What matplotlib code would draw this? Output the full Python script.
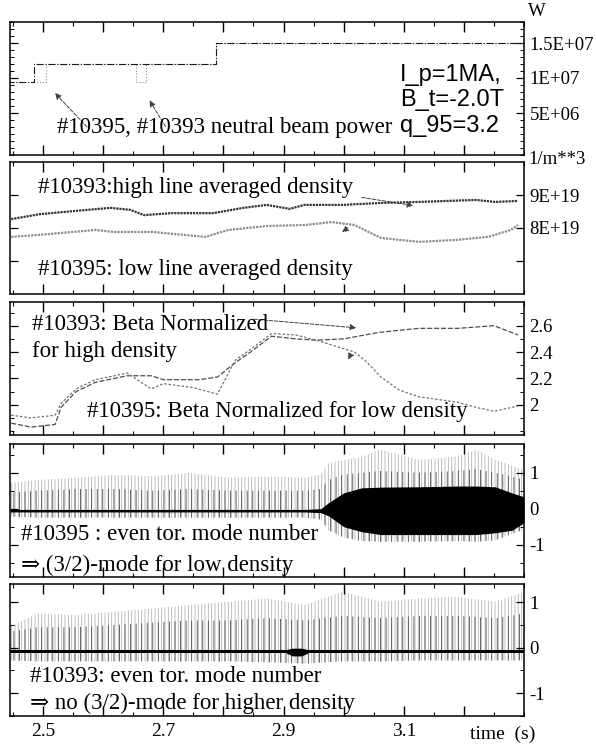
import matplotlib
matplotlib.use("Agg")
import matplotlib.pyplot as plt
from matplotlib.ticker import MultipleLocator

plt.rcParams['font.family'] = ['Liberation Serif', 'DejaVu Serif']
plt.rcParams['hatch.linewidth'] = 0.6

W, H = 596, 746

# neutral beam power (W)
pw95_t = [2.44, 2.485, 2.485, 2.788, 2.788, 3.30]
pw95 = [0.94e7, 0.94e7, 1.2e7, 1.2e7, 1.5e7, 1.5e7]
pw93_t = [2.44, 2.505, 2.505, 2.655, 2.655, 2.672, 2.672, 2.788, 2.788, 3.30]
pw93 = [0.94e7, 0.94e7, 1.2e7, 1.2e7, 0.94e7, 0.94e7, 1.2e7, 1.2e7, 1.5e7, 1.5e7]

# line averaged density (1/m**3)
ne93_t = [2.447, 2.495, 2.555, 2.612, 2.645, 2.668, 2.713, 2.783, 2.833, 2.872,
          2.91, 2.935, 2.998, 3.062, 3.125, 3.22, 3.252, 3.29]
ne93 = [8.27e19, 8.42e19, 8.52e19, 8.61e19, 8.55e19, 8.39e19, 8.45e19, 8.45e19, 8.61e19, 8.70e19,
        8.58e19, 8.70e19, 8.70e19, 8.76e19, 8.79e19, 8.85e19, 8.79e19, 8.82e19]
ne95_t = [2.447, 2.492, 2.587, 2.618, 2.682, 2.77, 2.808, 2.872, 2.935, 2.98,
          3.018, 3.062, 3.093, 3.125, 3.188, 3.24, 3.278, 3.29]
ne95 = [7.73e19, 7.79e19, 7.94e19, 7.88e19, 7.88e19, 7.73e19, 7.94e19, 8.06e19, 8.09e19, 8.18e19,
        8.09e19, 7.70e19, 7.64e19, 7.58e19, 7.64e19, 7.73e19, 7.94e19, 8.09e19]

# beta normalized
bn93_t = [2.447, 2.48, 2.52, 2.53, 2.555, 2.587, 2.64, 2.68, 2.70, 2.76, 2.79, 2.82, 2.845,
          2.88, 2.92, 2.955, 3.0, 3.06, 3.125, 3.19, 3.25, 3.29]
bn93 = [1.86, 1.83, 1.85, 1.98, 2.10, 2.17, 2.22, 2.22, 2.19, 2.19, 2.21, 2.32, 2.40,
        2.52, 2.50, 2.49, 2.50, 2.55, 2.58, 2.58, 2.60, 2.53]
bn95_t = [2.447, 2.48, 2.52, 2.53, 2.555, 2.587, 2.64, 2.68, 2.70, 2.75, 2.79, 2.82, 2.845,
          2.88, 2.92, 2.955, 2.99, 3.018, 3.037, 3.062, 3.093, 3.125, 3.188, 3.22, 3.25, 3.29]
bn95 = [1.92, 1.90, 1.92, 2.01, 2.12, 2.19, 2.24, 2.12, 2.16, 2.13, 2.08, 2.34, 2.42,
        2.54, 2.53, 2.49, 2.44, 2.40, 2.33, 2.21, 2.11, 2.06, 2.02, 1.98, 1.95, 1.99]

# even toroidal mode number signal, #10395
m95_t = [2.445, 2.49, 2.555, 2.618, 2.68, 2.745, 2.808, 2.872, 2.935, 2.962,
         2.975, 3.0, 3.03, 3.062, 3.125, 3.188, 3.22, 3.252, 3.28, 3.30]
m95_max = [0.72, 0.8, 0.86, 0.94, 0.9, 1.0, 0.86, 0.9, 0.86, 0.95,
           1.27, 1.35, 1.45, 1.64, 1.36, 1.45, 1.64, 1.36, 1.2, 1.08]
m95_typ = [0.45, 0.5, 0.55, 0.55, 0.5, 0.55, 0.5, 0.5, 0.5, 0.55,
           0.8, 0.95, 1.0, 1.05, 1.0, 1.05, 1.1, 1.0, 0.9, 0.8]
m95_min = [-0.22, -0.25, -0.25, -0.25, -0.25, -0.25, -0.25, -0.25, -0.25, -0.3,
           -0.6, -0.8, -0.9, -0.92, -0.92, -0.9, -0.92, -0.88, -0.7, -0.58]
m95_hi = [-0.02, -0.02, -0.02, -0.02, -0.02, -0.02, -0.02, -0.02, -0.02, 0.0,
          0.17, 0.44, 0.58, 0.6, 0.61, 0.63, 0.63, 0.61, 0.44, 0.33]
m95_lo = [-0.09, -0.09, -0.09, -0.09, -0.09, -0.09, -0.09, -0.09, -0.09, -0.11,
          -0.2, -0.5, -0.64, -0.72, -0.72, -0.72, -0.72, -0.67, -0.6, -0.39]

# even toroidal mode number signal, #10393
m93_t = [2.445, 2.49, 2.555, 2.618, 2.68, 2.745, 2.808, 2.872, 2.935, 2.998,
         3.062, 3.125, 3.188, 3.252, 3.30]
m93_max = [0.46, 0.75, 0.72, 0.79, 0.86, 0.94, 1.01, 1.08, 0.94, 1.23, 1.01, 1.08, 1.12, 1.01, 1.23]
m93_typ = [0.35, 0.45, 0.45, 0.5, 0.55, 0.6, 0.6, 0.65, 0.6, 0.7, 0.65, 0.7, 0.7, 0.65, 0.75]
m93_min = [-0.28, -0.3, -0.3, -0.3, -0.3, -0.3, -0.3, -0.32, -0.35, -0.3, -0.3, -0.28, -0.28, -0.28, -0.28]
m93_hi = [-0.04] * 15
m93_lo = [-0.12] * 15
burst_t = [2.905, 2.915, 2.93, 2.94]
burst_hi = [-0.04, -0.01, -0.01, -0.04]
burst_lo = [-0.12, -0.18, -0.18, -0.12]

xticks = [2.5, 2.6, 2.7, 2.8, 2.9, 3.0, 3.1, 3.2]
xlabels = ['2.5', '', '2.7', '', '2.9', '', '3.1', '']


def fxy(x, y):
    return x / W, 1 - y / H


fig = plt.figure(figsize=(W / 100, H / 100), dpi=100)
panels = [(22, 155), (162, 294), (302, 435), (444, 577), (584, 716)]
axes = []
for top, bot in panels:
    ax = fig.add_axes([10 / W, 1 - bot / H, 514 / W, (bot - top) / H])
    ax.set_xlim(2.445, 3.30)
    ax.set_xticks(xticks)
    ax.xaxis.set_minor_locator(MultipleLocator(0.05))
    ax.tick_params(axis='x', which='both', direction='in', top=True, bottom=True,
                   labelbottom=False)
    ax.tick_params(axis='x', which='major', length=7, width=1)
    ax.tick_params(axis='x', which='minor', length=3, width=0.8)
    ax.tick_params(axis='y', which='both', direction='in', left=True, right=True,
                   labelleft=False, labelright=True, labelsize=13.5, pad=4)
    ax.tick_params(axis='y', which='major', length=6, width=0.9)
    ax.tick_params(axis='y', which='minor', length=3, width=0.7)
    for s in ax.spines.values():
        s.set_linewidth(1.1)
    axes.append(ax)

ax1, ax2, ax3, ax4, ax5 = axes

# panel 1: beam power
ax1.plot(pw93_t, pw93, color='0.55', lw=0.8, ls=':')
ax1.plot(pw95_t, pw95, color='0.1', lw=0.8, ls='-.')
ax1.set_ylim(-1e6, 1.8e7)
ax1.set_yticks([5e6, 1e7, 1.5e7], ['5E+06', '1E+07', '1.5E+07'])
ax1.yaxis.set_minor_locator(MultipleLocator(1e6))

# panel 2: density
ax2.plot(ne93_t, ne93, color='0.2', lw=1.6, ls=(0, (1, 0.4)))
ax2.plot(ne95_t, ne95, color='0.55', lw=1.6, ls=(0, (1, 0.5)))
ax2.set_ylim(6e19, 1e20)
ax2.set_yticks([7e19, 8e19, 9e19], ['', '8E+19', '9E+19'])

# panel 3: beta normalized
ax3.plot(bn93_t, bn93, color='0.3', lw=0.9, ls=(0, (4, 1.5)))
ax3.plot(bn95_t, bn95, color='0.45', lw=0.9, ls=(0, (2, 1.5)))
ax3.set_ylim(1.77, 2.78)
ax3.set_yticks([2.0, 2.2, 2.4, 2.6], ['2', '2.2', '2.4', '2.6'])
ax3.yaxis.set_minor_locator(MultipleLocator(0.1))

# panels 4 and 5: mode signals
for ax, t, mx, typ, mn, hi, lo in [(ax4, m95_t, m95_max, m95_typ, m95_min, m95_hi, m95_lo),
                                   (ax5, m93_t, m93_max, m93_typ, m93_min, m93_hi, m93_lo)]:
    ax.fill_between(t, mn, mx, facecolor='none', edgecolor='0.7', hatch='|||||', lw=0)
    ax.fill_between(t, mn, typ, facecolor='none', edgecolor='0.3', hatch='|||', lw=0)
    ax.fill_between(t, lo, hi, color='black', lw=0)
    ax.set_yticks([-1, 0, 1], ['-1', '0', '1'])
    ax.yaxis.set_minor_locator(MultipleLocator(0.5))
ax5.fill_between(burst_t, burst_lo, burst_hi, color='black', lw=0)
ax4.set_ylim(-1.9, 1.8)
ax5.set_ylim(-1.5, 1.4)

ax5.tick_params(axis='x', labelbottom=True, labelsize=14, pad=5)
ax5.set_xticklabels(xlabels)

# texts
fs = 16.5
fig.text(*fxy(57, 128), '#10395, #10393 neutral beam power', fontsize=fs, va='center')
for y, s in [(75, 'I_p=1MA,'), (100, 'B_t=-2.0T'), (126, 'q_95=3.2')]:
    fig.text(*fxy(400, y), s, fontsize=17, va='center', family='Liberation Sans')
fig.text(*fxy(528, 12), 'W', fontsize=13.5, va='center')
fig.text(*fxy(528, 160), '1/m**3', fontsize=13.5, va='center')
fig.text(*fxy(38, 187), '#10393:high line averaged density', fontsize=fs, va='center')
fig.text(*fxy(38, 270), '#10395: low line averaged density', fontsize=fs, va='center')
fig.text(*fxy(32, 324), '#10393: Beta Normalized', fontsize=fs, va='center')
fig.text(*fxy(32, 351), 'for high density', fontsize=fs, va='center')
fig.text(*fxy(87, 412), '#10395: Beta Normalized for low density', fontsize=fs, va='center')
fig.text(*fxy(21, 535), '#10395 : even tor. mode number', fontsize=fs, va='center')
fig.text(*fxy(21, 565), '\u21d2 (3/2)-mode for low density', fontsize=fs, va='center')
fig.text(*fxy(30, 676), '#10393: even tor. mode number', fontsize=fs, va='center')
fig.text(*fxy(30, 703), '\u21d2 no (3/2)-mode for higher density', fontsize=fs, va='center')
fig.text(*fxy(470, 734), 'time  (s)', fontsize=14, va='center')

# arrows
arrows = [((89, 129), (53, 91)), ((167, 129), (148, 98)),
          ((359, 197), (416, 206)), ((350, 226), (340, 234)),
          ((251, 319), (359, 328)), ((352, 352), (347, 362))]
for (x0, y0), (x1, y1) in arrows:
    fig.add_artist(matplotlib.patches.FancyArrowPatch(
        fxy(x0, y0), fxy(x1, y1), transform=fig.transFigure,
        arrowstyle='-|>', mutation_scale=9, color='0.25', lw=0.7, ls='--'))

fig.savefig('out.png', dpi=100)
